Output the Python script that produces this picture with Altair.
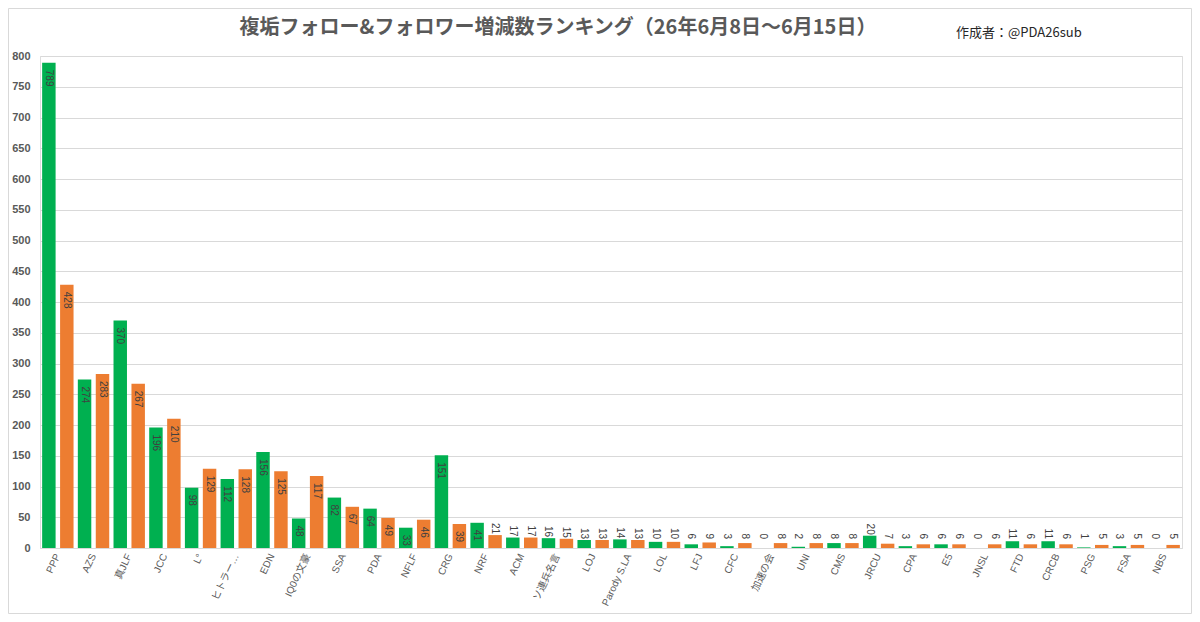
import altair as alt
import pandas as pd

title_text = "複垢フォロー&フォロワー増減数ランキング（26年6月8日〜6月15日）"
author_text = "作成者：@PDA26sub"

names = ["PPP", "AZS", "真JLF", "JCC", "L°", "ヒトラー…", "EDN", "IQ0の文豪",
         "SSA", "PDA", "NFLF", "CRG", "NRF", "ACM", "ソ連兵名言", "LOJ",
         "Parody S.LA", "LOL", "LFJ", "CFC", "加速の会", "UNI", "CMS", "JRCU",
         "CPA", "E5", "JNSL", "FTD", "CRCB", "PSG", "FSA", "NBS"]
follow = [789, 274, 370, 196, 98, 112, 156, 48, 82, 64, 33, 151, 41, 17, 16, 13,
          14, 10, 6, 3, 0, 2, 8, 20, 3, 6, 0, 11, 11, 1, 3, 0]
follower = [428, 283, 267, 210, 129, 128, 125, 117, 67, 49, 46, 39, 21, 17, 15, 13,
            13, 10, 9, 8, 8, 8, 8, 7, 6, 6, 6, 6, 6, 5, 5, 5]
series_names = ["フォロー", "フォロワー"]
series_colors = ["#00B050", "#ED7D31"]
y_major = list(range(0, 801, 50))
y_minor = [v for v in range(0, 801, 10) if v % 50 != 0]

rows = []
for n, a, b in zip(names, follow, follower):
    rows.append({"name": n, "series": series_names[0], "value": a})
    rows.append({"name": n, "series": series_names[1], "value": b})
df = pd.DataFrame(rows)

base = alt.Chart(df)
FONT = "Liberation Sans, Arial, Noto Sans CJK JP, sans-serif"

xenc = alt.X("name:N", sort=names,
             scale=alt.Scale(paddingInner=0.12, paddingOuter=0.06),
             axis=alt.Axis(title=None, labelAngle=-65, labelFontSize=10,
                           labelColor="#595959", labelFont=FONT, ticks=False,
                           domainColor="#d9d9d9", labelPadding=6,
                           labelLimit=200, grid=False))
xoff = alt.XOffset("series:N", sort=series_names,
                   scale=alt.Scale(paddingInner=0.25, paddingOuter=0))
yscale = alt.Scale(domain=[0, 800], nice=False)

bars = base.mark_bar().encode(
    x=xenc,
    xOffset=xoff,
    y=alt.Y("value:Q", scale=yscale,
            axis=alt.Axis(title=None, values=y_major, labelFontSize=11,
                          labelFontWeight="bold", labelColor="#595959",
                          labelFont=FONT, ticks=False, domain=False,
                          labelPadding=10, gridColor="#d9d9d9", orient="left")),
    color=alt.Color("series:N", sort=series_names,
                    scale=alt.Scale(domain=series_names, range=series_colors),
                    legend=None),
)

big = base.transform_filter("datum.value >= 25").mark_text(
    angle=90, align="left", baseline="middle", dx=7, fontSize=10,
    color="#404040", font=FONT
).encode(
    x=alt.X("name:N", sort=names),
    xOffset=xoff,
    y=alt.Y("value:Q", scale=yscale,
            axis=alt.Axis(title=None, values=y_minor, labels=False, ticks=False,
                          domain=False, gridColor="#f2f2f2", orient="right")),
    text=alt.Text("value:Q"),
)

small = base.transform_filter("datum.value < 25").transform_calculate(
    ypos="max(datum.value, 13)"
).mark_text(
    angle=90, align="right", baseline="middle", dx=-1, fontSize=10,
    color="#404040", font=FONT
).encode(
    x=alt.X("name:N", sort=names),
    xOffset=xoff,
    y=alt.Y("ypos:Q", scale=yscale, axis=None),
    text=alt.Text("value:Q"),
)

title = alt.Chart(pd.DataFrame({"t": [title_text]})).mark_text(
    fontSize=20, fontWeight="bold", color="#595959", font="Noto Sans CJK JP",
    align="center", baseline="middle"
).encode(text="t:N", x=alt.value(518), y=alt.value(-28))

author = alt.Chart(pd.DataFrame({"t": [author_text]})).mark_text(
    fontSize=13, color="#262626", font="Noto Sans CJK JP",
    align="left", baseline="middle"
).encode(text="t:N", x=alt.value(916), y=alt.value(-23))

frame = alt.Chart(pd.DataFrame({"t": [0]})).mark_rect(
    fill=None, stroke="#d9d9d9", strokeWidth=1
).encode(x=alt.value(-31.5), x2=alt.value(1151.5),
         y=alt.value(-47.5), y2=alt.value(557.5))

chart = alt.layer(bars, big, small, title, author, frame).resolve_scale(
    y="shared"
).resolve_axis(y="independent").properties(
    width=1142, height=492,
    autosize=alt.AutoSizeParams(type="none"),
    padding={"left": 32, "top": 48, "right": 10, "bottom": 66},
).configure_view(stroke=None).configure(background="white")

chart.save("out.html", embed_options={"renderer": "svg", "actions": False})
